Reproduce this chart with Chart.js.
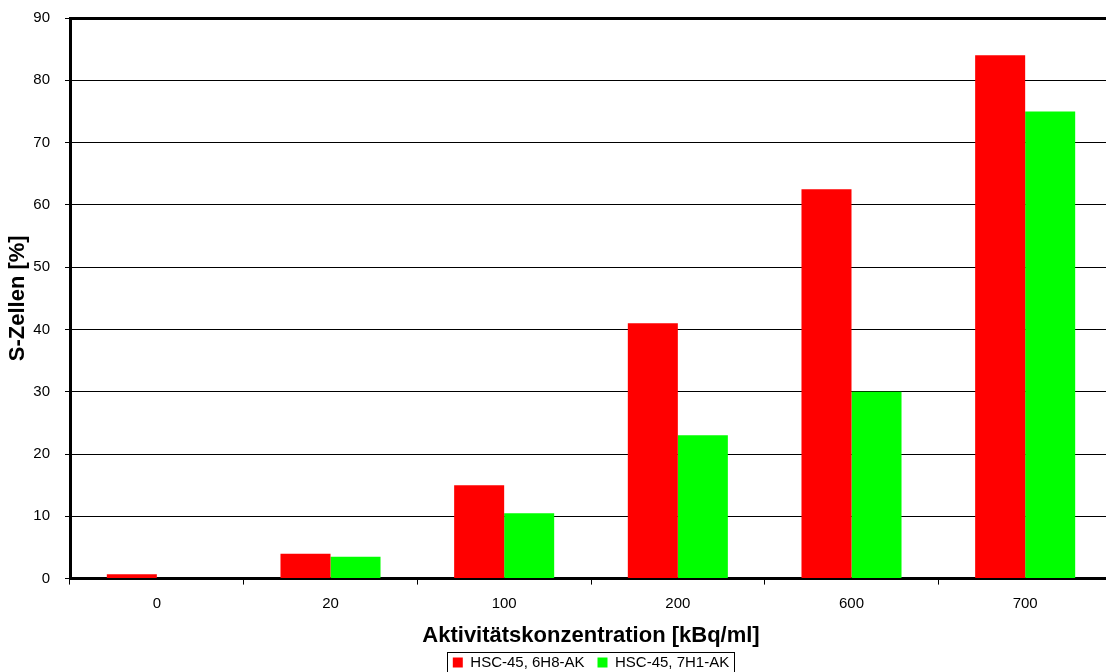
<!DOCTYPE html>
<html>
<head>
<meta charset="utf-8">
<script src="https://cdn.jsdelivr.net/npm/chart.js@4/dist/chart.umd.min.js"></script>
<style>
  html, body { margin: 0; padding: 0; background: #fff; overflow: hidden; }
  #wrap { position: relative; width: 1112px; height: 672px; }
</style>
</head>
<body>
<div id="wrap"><canvas id="c"></canvas></div>
<script>
// Activity concentrations (kBq/ml) on the category axis
const categories = ['0', '20', '100', '200', '600', '700'];
// Share of S-phase cells in percent
const seriesNames = ['HSC-45, 6H8-AK', 'HSC-45, 7H1-AK'];
const values6H8 = [0.7, 4.0, 15.0, 41.0, 62.5, 84.0];
const values7H1 = [0, 3.5, 10.5, 23.0, 30.0, 75.0];
const yTicks = [0, 10, 20, 30, 40, 50, 60, 70, 80, 90];

const FONT = '"Liberation Sans", Arial, sans-serif';

// Frame around the legend items
const legendFrame = {
  id: 'legendFrame',
  afterDraw(chart) {
    const boxes = chart.legend && chart.legend.legendHitBoxes;
    if (!boxes || !boxes.length) return;
    const first = boxes[0], last = boxes[boxes.length - 1];
    const x0 = Math.round(first.left) - 5.5;
    const x1 = Math.round(last.left + last.width) + 5.5;
    const y0 = Math.round(first.top) - 2.5;
    const y1 = Math.round(first.top) + 17.5;
    const ctx = chart.ctx;
    ctx.save();
    ctx.strokeStyle = '#000';
    ctx.lineWidth = 1;
    ctx.strokeRect(x0, y0, x1 - x0, y1 - y0);
    ctx.restore();
  }
};

new Chart(document.getElementById('c'), {
  type: 'bar',
  data: {
    labels: categories,
    datasets: [
      { label: seriesNames[0], data: values6H8, backgroundColor: '#ff0000', borderWidth: 0 },
      { label: seriesNames[1], data: values7H1, backgroundColor: '#00ff00', borderWidth: 0 }
    ]
  },
  options: {
    responsive: true,
    maintainAspectRatio: false,
    animation: false,
    layout: { padding: { left: 0, right: 0, top: 18, bottom: -8 } },
    datasets: { bar: { categoryPercentage: 0.576, barPercentage: 1.0 } },
    plugins: {
      tooltip: { enabled: false },
      legend: {
        position: 'bottom',
        fullSize: false,
        labels: {
          font: { family: FONT, size: 15 },
          color: '#000',
          boxWidth: 10,
          boxHeight: 10,
          padding: 13,
          useBorderRadius: false
        }
      }
    },
    scales: {
      x: {
        grid: {
          offset: true,
          drawOnChartArea: false,
          drawTicks: true,
          tickLength: 6,
          color: '#000',
          lineWidth: 1
        },
        border: { display: true, color: '#000', width: 3 },
        ticks: { font: { family: FONT, size: 15 }, color: '#000', padding: 10 },
        title: {
          display: true,
          text: 'Aktivitätskonzentration [kBq/ml]',
          font: { family: FONT, size: 22, weight: 'bold' },
          color: '#000',
          padding: { top: 0, bottom: -7 }
        }
      },
      y: {
        min: 0,
        max: 90,
        afterBuildTicks(scale) { scale.ticks = yTicks.map(v => ({ value: v })); },
        afterFit(scale) {
          scale.width = 70;
          // the top label may sit above the plot frame without pushing it down
          scale.paddingTop = 0;
          scale.paddingBottom = 0;
        },
        grid: {
          color: '#000',
          lineWidth: ctx => (ctx.tick && ctx.tick.value === 90 ? 3 : 1),
          tickWidth: 1,
          tickLength: 5
        },
        border: { display: true, color: '#000', width: 3 },
        ticks: { font: { family: FONT, size: 15 }, color: '#000', padding: 15 },
        title: {
          display: true,
          text: 'S-Zellen [%]',
          font: { family: FONT, size: 22, weight: 'bold' },
          color: '#000',
          padding: { top: 5, bottom: 0 }
        }
      }
    }
  },
  plugins: [legendFrame]
});
</script>
</body>
</html>
